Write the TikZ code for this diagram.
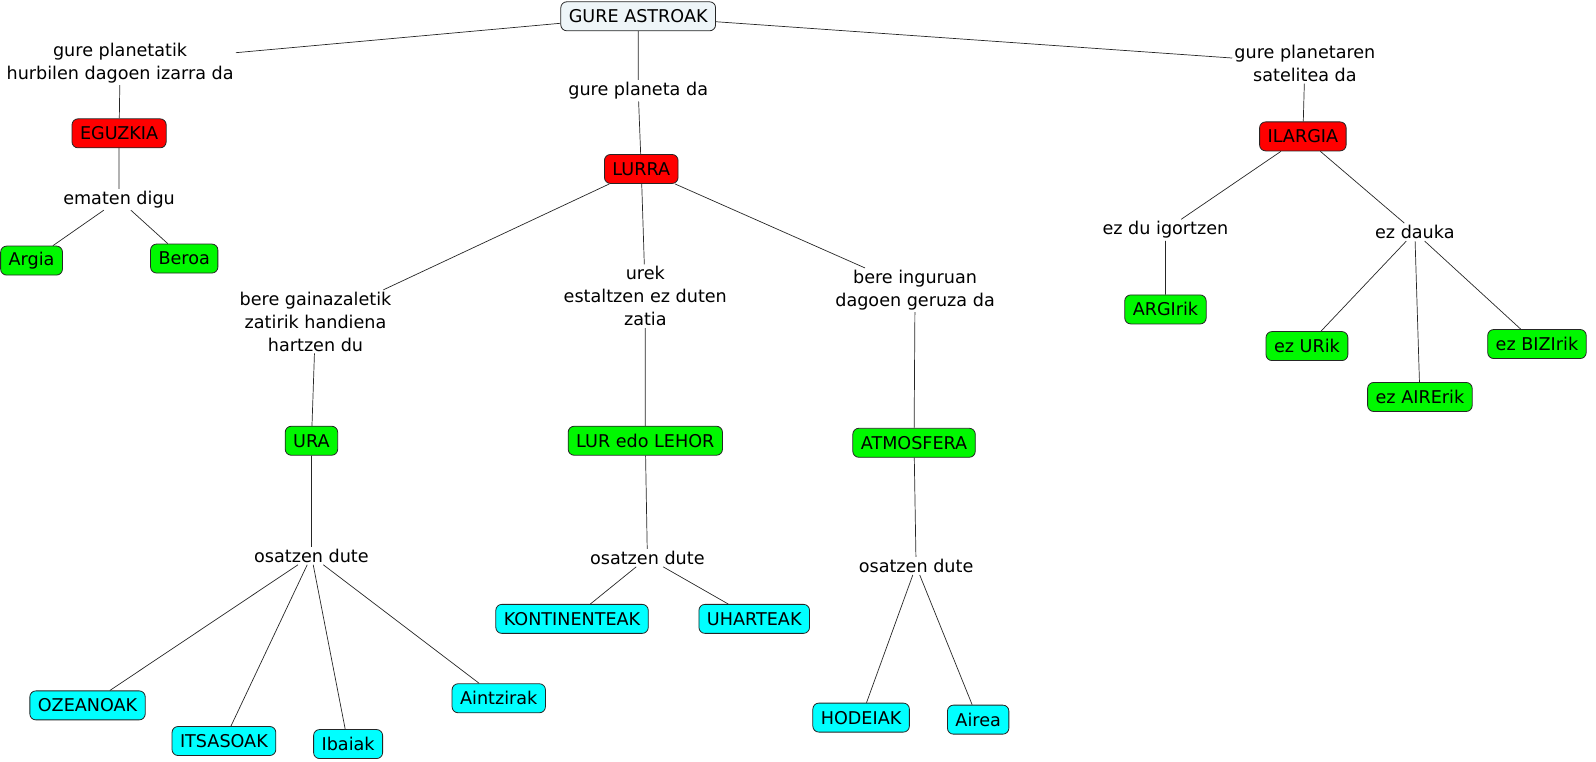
\documentclass[tikz,border=0pt]{standalone}
\usepackage{fontspec}
\setmainfont{DejaVu Sans}
\definecolor{rootfill}{HTML}{EEF5F8}
\definecolor{sunred}{HTML}{FF0000}
\definecolor{leafgreen}{HTML}{00F800}
\definecolor{leafcyan}{HTML}{00FFFF}
\tikzset{
	concept/.style={draw=black!85, line width=0.8pt, rounded corners=6pt, inner xsep=8pt, inner ysep=2pt, minimum height=29pt, font=\fontsize{17.6}{22.8}\selectfont},
	linkword/.style={inner sep=2pt, align=center, font=\fontsize{17.6}{22.8}\selectfont},
	conn/.style={draw=black!85, line width=0.7pt}
}

\begin{document}
\begin{tikzpicture}[x=1.0178pt, y=-1.0178pt]
			%%%%% START %%%%%
			\useasboundingbox (0,0) rectangle (1568,748);
			
			\node[concept, fill=rootfill] (astroak) at (627,16) {GURE ASTROAK};
			
			% eguzkia
			\node[linkword] (hurbilen) at (118,62) {gure planetatik\\hurbilen dagoen izarra da};
			\node[concept, fill=sunred] (eguzkia) at (117,131) {EGUZKIA};
			\node[linkword] (ematen) at (117,196) {ematen digu};
			\node[concept, fill=leafgreen] (argia) at (31,256) {Argia};
			\node[concept, fill=leafgreen] (beroa) at (181,254) {Beroa};
			
			% lurra
			\node[linkword] (planeta) at (627,89) {gure planeta da};
			\node[concept, fill=sunred] (lurra) at (630,166) {LURRA};
			\node[linkword] (gainazal) at (310,316) {bere gainazaletik\\zatirik handiena\\hartzen du};
			\node[linkword] (urek) at (634,291) {urek\\estaltzen ez duten\\zatia};
			\node[linkword] (inguru) at (899,285) {bere inguruan\\dagoen geruza da};
			\node[concept, fill=leafgreen] (ura) at (306,433) {URA};
			\node[concept, fill=leafgreen] (lehor) at (634,433) {LUR edo LEHOR};
			\node[concept, fill=leafgreen] (atmosfera) at (898,435) {ATMOSFERA};
			\node[linkword] (osaUra) at (306,546) {osatzen dute};
			\node[linkword] (osaLur) at (636,548) {osatzen dute};
			\node[linkword] (osaAtm) at (900,556) {osatzen dute};
			\node[concept, fill=leafcyan] (ozeanoak) at (86,693) {OZEANOAK};
			\node[concept, fill=leafcyan] (itsasoak) at (220,728) {ITSASOAK};
			\node[concept, fill=leafcyan] (ibaiak) at (342,731) {Ibaiak};
			\node[concept, fill=leafcyan] (aintzirak) at (490,686) {Aintzirak};
			\node[concept, fill=leafcyan] (kontinent) at (562,608) {KONTINENTEAK};
			\node[concept, fill=leafcyan] (uharteak) at (741,608) {UHARTEAK};
			\node[concept, fill=leafcyan] (hodeiak) at (846,705) {HODEIAK};
			\node[concept, fill=leafcyan] (airea) at (961,707) {Airea};
			
			% ilargia
			\node[linkword] (satelite) at (1282,62) {gure planetaren\\satelitea da};
			\node[concept, fill=sunred] (ilargia) at (1280,134) {ILARGIA};
			\node[linkword] (igortzen) at (1145,226) {ez du igortzen};
			\node[linkword] (dauka) at (1390,228) {ez dauka};
			\node[concept, fill=leafgreen] (argirik) at (1145,304) {ARGIrik};
			\node[concept, fill=leafgreen] (urik) at (1284,340) {ez URik};
			\node[concept, fill=leafgreen] (airerik) at (1395,390) {ez AIRErik};
			\node[concept, fill=leafgreen] (bizirik) at (1510,338) {ez BIZIrik};
			
			\draw[conn] (astroak) -- (hurbilen) -- (eguzkia) -- (ematen);
			\draw[conn] (ematen) -- (argia);
			\draw[conn] (ematen) -- (beroa);
			
			\draw[conn] (astroak) -- (planeta) -- (lurra);
			\draw[conn] (lurra) -- (gainazal) -- (ura) -- (osaUra);
			\draw[conn] (lurra) -- (urek) -- (lehor) -- (osaLur);
			\draw[conn] (lurra) -- (inguru) -- (atmosfera) -- (osaAtm);
			\draw[conn] (osaUra) -- (ozeanoak);
			\draw[conn] (osaUra) -- (itsasoak);
			\draw[conn] (osaUra) -- (ibaiak);
			\draw[conn] (osaUra) -- (aintzirak);
			\draw[conn] (osaLur) -- (kontinent);
			\draw[conn] (osaLur) -- (uharteak);
			\draw[conn] (osaAtm) -- (hodeiak);
			\draw[conn] (osaAtm) -- (airea);
			
			\draw[conn] (astroak) -- (satelite) -- (ilargia);
			\draw[conn] (ilargia) -- (igortzen) -- (argirik);
			\draw[conn] (ilargia) -- (dauka);
			\draw[conn] (dauka) -- (urik);
			\draw[conn] (dauka) -- (airerik);
			\draw[conn] (dauka) -- (bizirik);
			
			%%%%% END %%%%%
\end{tikzpicture}
\end{document}
